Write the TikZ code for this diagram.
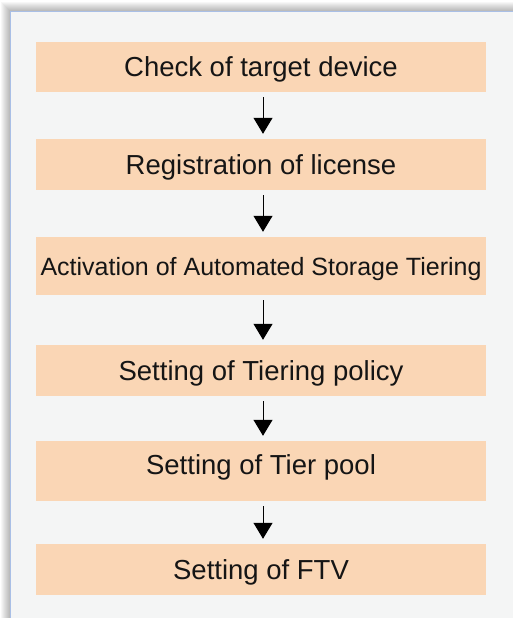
\documentclass[tikz,border=0pt]{standalone}
\usepackage{fontspec}
\setmainfont{Liberation Sans}
\usetikzlibrary{arrows.meta}
\definecolor{boxfill}{HTML}{FAD6B5}
\definecolor{panelbg}{HTML}{F4F5F5}
\definecolor{panelborder}{HTML}{A9BFE6}
\definecolor{txt}{HTML}{151515}
\tikzset{
  stepbox/.style={fill=boxfill, draw=none, minimum width=450pt, inner sep=0pt,
    text height=19.5pt, text depth=0pt, text=txt, font=\fontsize{27.5}{31}\selectfont},
  flowarrow/.style={line width=1pt, -{Triangle[width=19pt,length=16pt]},
    shorten <=5pt, shorten >=5pt}
}
\begin{document}
\begin{tikzpicture}[x=1pt,y=-1pt]
\useasboundingbox (0,0) rectangle (513,618);
\fill[white] (0,0) rectangle (513,618);
% shadow
\foreach \i in {1,...,9}{
  \fill[black, opacity=0.03] (10-\i,11-\i) rectangle (530,630);
}
% panel
\draw[fill=panelbg, draw=panelborder, line width=1pt] (10.5,11.5) rectangle (530,630);
% steps
\node[stepbox, minimum height=50pt] (s1) at (261,67) {Check of target device};
\node[stepbox, minimum height=51pt] (s2) at (261,164.5) {Registration of license};
\node[stepbox, minimum height=58pt, text height=18.5pt, font=\fontsize{25}{30}\selectfont] (s3) at (261,266) {Activation of Automated Storage Tiering};
\node[stepbox, minimum height=51pt] (s4) at (261,370.5) {Setting of Tiering policy};
\node[stepbox, minimum height=60pt] (s5) at (261,471) {\raisebox{6pt}[19.5pt][0pt]{Setting of Tier pool}};
\node[stepbox, minimum height=51pt] (s6) at (261,569.5) {Setting of FTV};
% arrows
\foreach \a/\b in {s1/s2,s2/s3,s3/s4,s4/s5,s5/s6}{
  \draw[flowarrow] ([xshift=2pt]\a.south) -- ([xshift=2pt]\b.north);
}
\end{tikzpicture}
\end{document}
